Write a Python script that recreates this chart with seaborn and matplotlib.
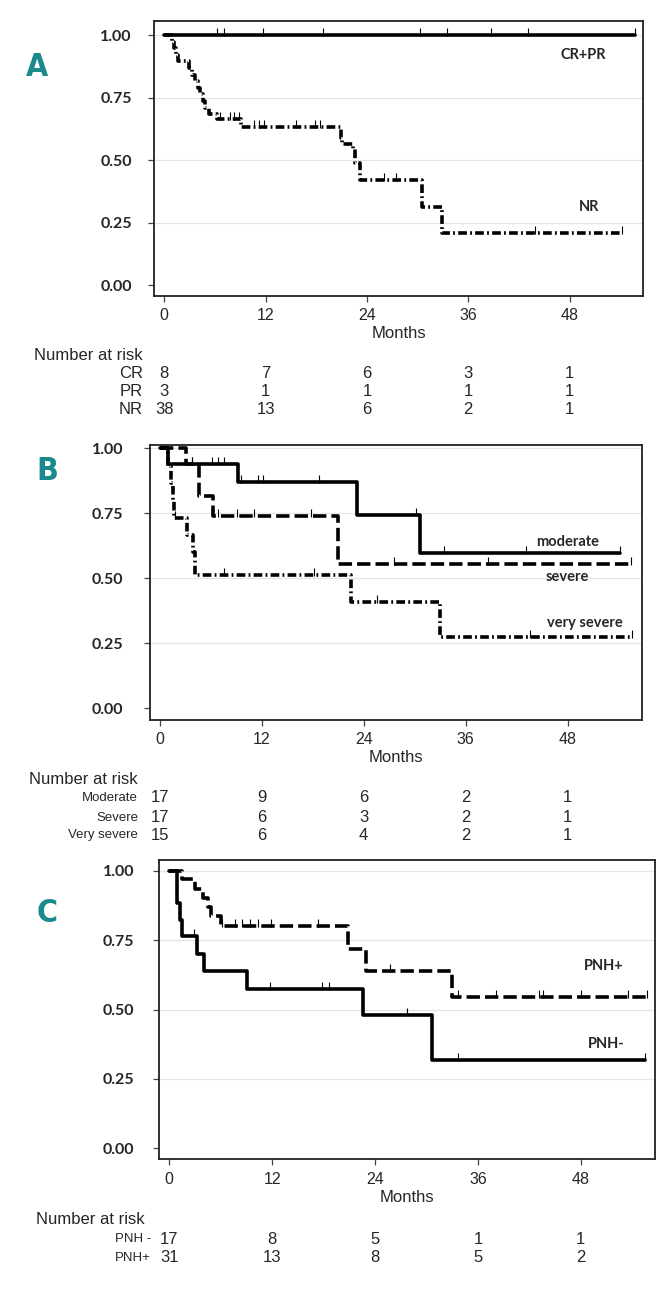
import matplotlib
matplotlib.use("Agg")
import matplotlib.pyplot as plt
import matplotlib.transforms as mtransforms
import numpy as np
import pandas as pd
import seaborn as sns

# ---- data ----
months_ticks = [0, 12, 24, 36, 48]

# panel A
crpr_t = [0, 55.7]
crpr_s = [1.0, 1.0]
crpr_cens = [6.2, 7.1, 11.7, 18.8, 30.3, 33.5, 38.7, 43.1, 55.7]
nr_t = [0, 0.9, 1.2, 1.4, 1.6, 2.9, 3.3, 3.6, 4.0, 4.2, 4.6, 4.8, 5.3, 6.3, 9.1,
        20.9, 21.0, 22.3, 22.6, 23.2, 30.5, 32.9, 54.2]
nr_s = [1.0, 0.974, 0.947, 0.921, 0.895, 0.868, 0.842, 0.816, 0.789, 0.763, 0.737, 0.711, 0.684, 0.666, 0.632,
        0.59, 0.567, 0.545, 0.49, 0.42, 0.315, 0.21, 0.21]
nr_cens = [6.6, 7.8, 8.3, 8.8, 10.6, 11.2, 11.85, 15.6, 17.9, 18.4, 26.0, 27.5, 43.9, 54.2]
risk_a_labels = ["CR", "PR", "NR"]
risk_cr = [8, 7, 6, 3, 1]
risk_pr = [3, 1, 1, 1, 1]
risk_nr = [38, 13, 6, 2, 1]

# panel B
mod_t = [0, 1.0, 9.2, 23.25, 30.6, 54.2]
mod_s = [1.0, 0.941, 0.869, 0.745, 0.596, 0.596]
mod_cens = [3.85, 6.1, 6.85, 7.6, 9.6, 11.6, 12.1, 18.7, 30.1, 33.5, 43.1, 54.2]
sev_t = [0, 3.1, 4.6, 6.25, 20.95, 55.5]
sev_s = [1.0, 0.941, 0.816, 0.74, 0.555, 0.555]
sev_cens = [3.85, 6.85, 9.1, 11.1, 17.85, 27.6, 38.6, 55.5]
vsev_t = [0, 1.0, 1.3, 1.5, 1.7, 3.25, 3.9, 4.1, 22.5, 33.0, 55.6]
vsev_s = [1.0, 0.933, 0.867, 0.8, 0.733, 0.667, 0.6, 0.513, 0.41, 0.275, 0.275]
vsev_cens = [1.85, 7.6, 18.1, 25.6, 43.6, 55.6]
risk_b_labels = ["Moderate", "Severe", "Very severe"]
risk_mod = [17, 9, 6, 2, 1]
risk_sev = [17, 6, 3, 2, 1]
risk_vsev = [15, 6, 4, 2, 1]

# panel C
pnhn_t = [0, 0.9, 1.3, 1.5, 3.25, 4.0, 9.1, 22.55, 30.6, 55.5]
pnhn_s = [1.0, 0.882, 0.823, 0.765, 0.70, 0.638, 0.574, 0.48, 0.318, 0.318]
pnhn_cens = [2.9, 11.7, 17.85, 18.6, 27.75, 33.7, 55.5]
pnhp_t = [0, 1.5, 3.0, 3.9, 4.5, 4.85, 6.0, 20.9, 23.0, 33.0, 55.7]
pnhp_s = [1.0, 0.968, 0.935, 0.903, 0.87, 0.835, 0.80, 0.718, 0.638, 0.545, 0.545]
pnhp_cens = [6.2, 7.7, 8.45, 9.45, 10.4, 11.9, 17.35, 25.75, 33.7, 38.1, 43.1, 43.6, 48.0, 53.5, 55.7]
risk_c_labels = ["PNH -", "PNH+"]
risk_pnhn = [17, 8, 5, 1, 1]
risk_pnhp = [31, 13, 8, 5, 2]

W, H = 665, 1292
TEAL = "#1b8a8c"
SOLID = ""
DASH = (3.7, 1.4)
DASHDOT = (2.4, 0.9, 0.5, 0.9)

sns.set_theme(style="white")
plt.rcParams["font.family"] = ["Liberation Sans", "DejaVu Sans"]

fig = plt.figure(figsize=(W / 100, H / 100), dpi=100)


def fy(px):
    return 1 - px / H


def km_panel(ax, curves, xlim, ylim, ypad):
    frames = []
    cens = []
    dashes = {}
    for name, t, s, c, d in curves:
        frames.append(pd.DataFrame({"t": t, "s": s, "g": name}))
        idx = np.searchsorted(t, c, side="right") - 1
        cens.append(pd.DataFrame({"t": c, "s": np.array(s)[idx], "g": name}))
        dashes[name] = d
    df = pd.concat(frames)
    sns.lineplot(data=df, x="t", y="s", style="g", dashes=dashes, color="black",
                 estimator=None, sort=False, drawstyle="steps-post", lw=2.6,
                 legend=False, ax=ax)
    cdf = pd.concat(cens)
    ax.scatter(cdf["t"], cdf["s"] + 0.012, marker="|", s=40, color="black", lw=0.8, zorder=3)
    ax.set_xlim(*xlim)
    ax.set_ylim(*ylim)
    ax.set_xticks(months_ticks)
    ax.set_yticks([0, 0.25, 0.5, 0.75, 1.0])
    ax.set_yticklabels(["0.00", "0.25", "0.50", "0.75", "1.00"])
    for y in [0.25, 0.5, 0.75, 1.0]:
        ax.axhline(y, color="#e4e4e4", lw=0.9, zorder=0)
    ax.set_xlabel("")
    ax.set_ylabel("")
    for sp in ax.spines.values():
        sp.set_color("#222222")
        sp.set_linewidth(1.3)
    ax.tick_params(axis="both", direction="out", length=4, width=0.9, color="#444444",
                   bottom=True, left=True)
    ax.tick_params(axis="x", labelsize=11.5, pad=5)
    ax.tick_params(axis="y", pad=ypad)
    for lab in ax.get_yticklabels():
        lab.set_fontfamily(["Lato", "DejaVu Sans"])
        lab.set_fontweight("bold")
        lab.set_fontsize(11.5)


def risk_table(ax, labels, rows, months_y, head_y, head_x, row_ys, lab_x, lab_size):
    trans = mtransforms.blended_transform_factory(ax.transData, fig.transFigure)
    xc = np.mean(ax.get_xlim())
    ax.text(xc, fy(months_y), "Months", transform=trans, ha="center", va="center", fontsize=12)
    fig.text(head_x / W, fy(head_y), "Number at risk", ha="left", va="center", fontsize=12)
    for lab, row, y in zip(labels, rows, row_ys):
        fig.text(lab_x / W, fy(y), lab, ha="right", va="center", fontsize=lab_size)
        for m, n in zip(months_ticks, row):
            ax.text(m, fy(y), str(n), transform=trans, ha="center", va="center", fontsize=12)


def curve_label(ax, x, y, s):
    ax.text(x, y, s, ha="center", va="center", fontsize=10.5, fontweight="bold",
            family=["Lato", "DejaVu Sans"])


def panel_letter(x, y, s):
    fig.text(x / W, fy(y), s, ha="center", va="center", fontsize=23, fontweight="bold",
             color=TEAL, family=["DejaVu Sans"], fontstretch="condensed")


# ---- panel A ----
axA = fig.add_axes([154 / W, fy(296), 489 / W, 275 / H])
km_panel(axA, [("CR+PR", crpr_t, crpr_s, crpr_cens, SOLID),
               ("NR", nr_t, nr_s, nr_cens, DASHDOT)],
         (-1.21, 56.7), (-0.043, 1.057), 12)
curve_label(axA, 49.6, 0.92, "CR+PR")
curve_label(axA, 50.3, 0.314, "NR")
risk_table(axA, risk_a_labels, [risk_cr, risk_pr, risk_nr], 333, 355, 34,
           [373, 392, 410], 143, 12)
panel_letter(37, 68, "A")

# ---- panel B ----
axB = fig.add_axes([150 / W, fy(720), 492 / W, 275 / H])
km_panel(axB, [("moderate", mod_t, mod_s, mod_cens, SOLID),
               ("severe", sev_t, sev_s, sev_cens, DASH),
               ("very severe", vsev_t, vsev_s, vsev_cens, DASHDOT)],
         (-1.15, 56.75), (-0.045, 1.013), 15)
curve_label(axB, 47.95, 0.641, "moderate")
curve_label(axB, 47.95, 0.506, "severe")
curve_label(axB, 50.0, 0.327, "very severe")
risk_table(axB, risk_b_labels, [risk_mod, risk_sev, risk_vsev], 757, 780, 29,
           [798, 818, 835], 138, 9.5)
panel_letter(47, 472, "B")

# ---- panel C ----
axC = fig.add_axes([159 / W, fy(1159), 496 / W, 299 / H])
km_panel(axC, [("PNH-", pnhn_t, pnhn_s, pnhn_cens, SOLID),
               ("PNH+", pnhp_t, pnhp_s, pnhp_cens, DASH)],
         (-1.19, 56.65), (-0.038, 1.038), 14)
curve_label(axC, 50.7, 0.655, "PNH+")
curve_label(axC, 51.0, 0.377, "PNH-")
risk_table(axC, risk_c_labels, [risk_pnhn, risk_pnhp], 1197, 1220, 36,
           [1239, 1258], 151, 9.5)
panel_letter(47, 913, "C")

fig.savefig("out.png", dpi=100)
